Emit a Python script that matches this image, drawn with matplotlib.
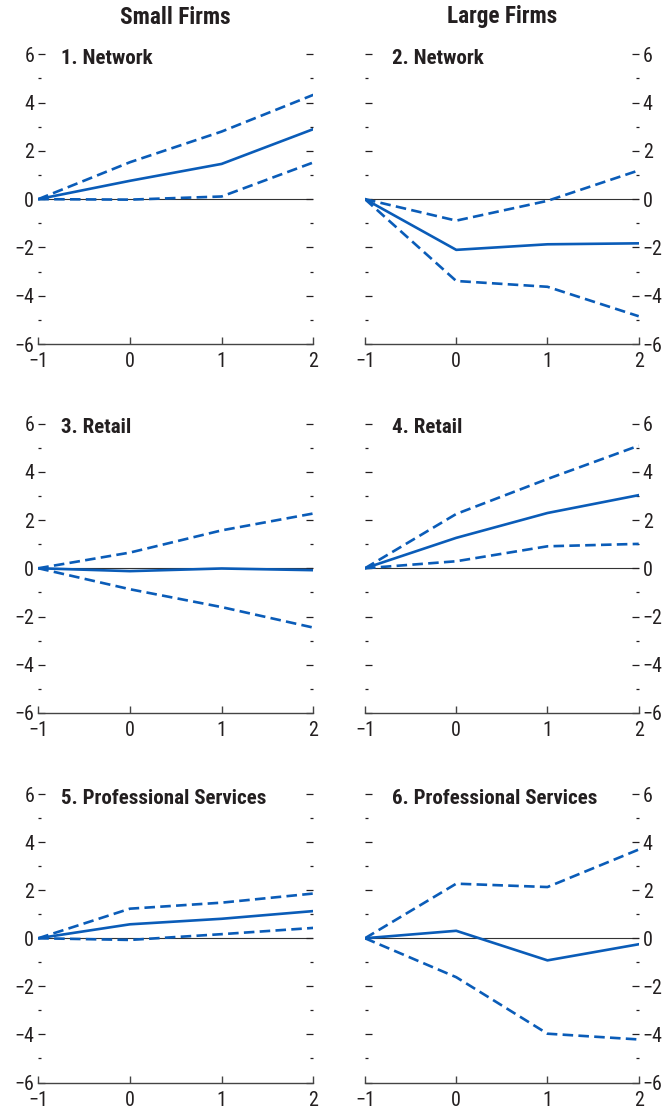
import matplotlib
matplotlib.use("Agg")
import matplotlib.pyplot as plt
from matplotlib import font_manager
from matplotlib.ticker import MultipleLocator

# pick a narrow face when one is installed, else the Arial-metric one
installed = {f.name for f in font_manager.fontManager.ttflist}
scale = 1.0
family = 'Liberation Sans'
for name in ['Roboto Condensed', 'Liberation Sans Narrow', 'Arial Narrow']:
    if name in installed:
        family = name
        scale = 1.18
        break
plt.rcParams['font.family'] = [family, 'DejaVu Sans']
plt.rcParams['axes.unicode_minus'] = True

# Data: periods and estimates (central + confidence bands)
periods = [-1, 0, 1, 2]
panel_titles = ["1. Network", "2. Network", "3. Retail", "4. Retail",
                "5. Professional Services", "6. Professional Services"]
column_titles = ["Small Firms", "Large Firms"]

central = [
    [0, 0.76, 1.46, 2.90],
    [0, -2.10, -1.87, -1.83],
    [0, -0.12, -0.01, -0.08],
    [0, 1.26, 2.29, 3.03],
    [0, 0.58, 0.81, 1.13],
    [0, 0.31, -0.92, -0.25],
]
upper = [
    [0, 1.53, 2.80, 4.32],
    [0, -0.89, -0.07, 1.19],
    [0, 0.65, 1.57, 2.27],
    [0, 2.25, 3.70, 5.08],
    [0, 1.23, 1.48, 1.86],
    [0, 2.27, 2.13, 3.69],
]
lower = [
    [0, -0.02, 0.11, 1.52],
    [0, -3.39, -3.63, -4.85],
    [0, -0.87, -1.61, -2.46],
    [0, 0.29, 0.91, 1.01],
    [0, -0.07, 0.17, 0.43],
    [0, -1.62, -3.97, -4.21],
]

blue = '#0a5cb8'
text_color = '#231f20'

W, H = 668, 1115
fig = plt.figure(figsize=(W / 100, H / 100), dpi=100)

col_x = [(38.3, 313.3), (365.0, 638.7)]
row_y = [(54.3, 344.0), (423.5, 713.0), (794.0, 1082.5)]

tick_fs = 12.2 * scale
panel_fs = 12.8 * scale
head_fs = 14.2 * scale

for i in range(6):
    r, c = divmod(i, 2)
    x0, x1 = col_x[c]
    y0, y1 = row_y[r]
    ax = fig.add_axes([x0 / W, 1 - y1 / H, (x1 - x0) / W, (y1 - y0) / H])

    ax.axhline(0, color='#333333', lw=0.8, zorder=1)
    ax.plot(periods, upper[i], color=blue, lw=1.9, ls=(0, (4, 2)), zorder=3)
    ax.plot(periods, lower[i], color=blue, lw=1.9, ls=(0, (4, 2)), zorder=3)
    ax.plot(periods, central[i], color=blue, lw=1.9, zorder=4)

    ax.set_xlim(-1, 2)
    ax.set_ylim(-6, 6)
    ax.set_xticks(periods)
    ax.yaxis.set_major_locator(MultipleLocator(2))
    ax.yaxis.set_minor_locator(MultipleLocator(1))

    for s in ['top', 'left', 'right']:
        ax.spines[s].set_visible(False)
    ax.spines['bottom'].set_color('#444444')
    ax.spines['bottom'].set_linewidth(1.0)

    ax.tick_params(axis='x', direction='in', length=5, width=1.0, color='#444444',
                   labelsize=tick_fs, labelcolor=text_color, pad=6)
    labels_left = (c == 0)
    ax.tick_params(axis='y', which='major', direction='in', length=5, width=0.9,
                   color=text_color, left=True, right=True,
                   labelleft=labels_left, labelright=not labels_left,
                   labelsize=tick_fs, labelcolor=text_color, pad=3)
    ax.tick_params(axis='y', which='minor', direction='in', length=2.2, width=0.9,
                   color=text_color, left=True, right=True)

    tx = 0.083 if c == 0 else 0.10
    ax.text(tx, 0.985, panel_titles[i], transform=ax.transAxes, ha='left', va='center',
            fontsize=panel_fs, fontweight='bold', color=text_color)

for c, title in enumerate(column_titles):
    x0, x1 = col_x[c]
    fig.text((x0 + x1) / 2 / W, 1 - 17 / H, title, ha='center', va='center',
             fontsize=head_fs, fontweight='bold', color=text_color)

fig.savefig('out.png', dpi=100)
